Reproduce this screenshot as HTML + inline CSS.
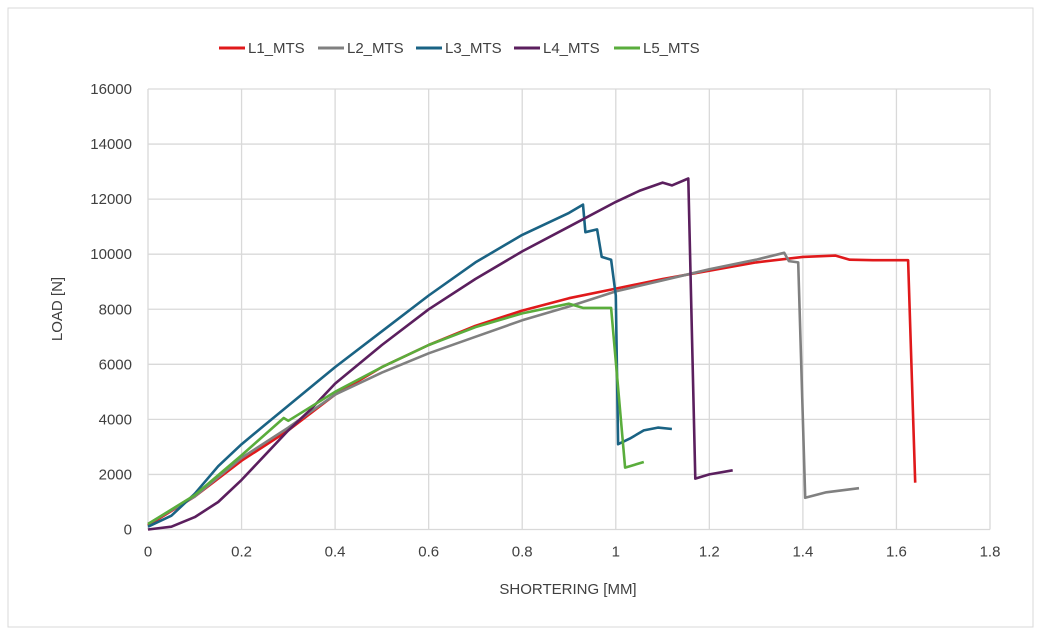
<!DOCTYPE html>
<html><head><meta charset="utf-8"><style>
html,body{margin:0;padding:0;background:#fff;}
svg{display:block;font-family:"Liberation Sans",sans-serif;}
</style></head><body>
<svg id="chart" width="1042" height="636">
<rect x="8" y="8" width="1025" height="619" fill="#fff" stroke="#d9d9d9"/>
<g id="grid"></g><g id="axes"></g><g id="series"></g><g id="legend"></g>
<text x="568" y="594" text-anchor="middle" font-size="15" fill="#404040">SHORTERING [MM]</text>
<text transform="translate(62,309) rotate(-90)" text-anchor="middle" font-size="15" fill="#404040">LOAD [N]</text>
</svg>
<script>
const seriesNames=["L1_MTS","L2_MTS","L3_MTS","L4_MTS","L5_MTS"];
const seriesColors=["#e0191b","#808080","#1a6384","#5b1f5e","#5aad3c"];
const xTicks=[0,0.2,0.4,0.6,0.8,1,1.2,1.4,1.6,1.8];
const yTicks=[0,2000,4000,6000,8000,10000,12000,14000,16000];
const L1=[[0,150],[0.1,1200],[0.2,2500],[0.3,3600],[0.4,4900],[0.5,5900],[0.6,6700],[0.7,7400],[0.8,7950],[0.9,8400],[1.0,8750],[1.1,9100],[1.2,9400],[1.3,9700],[1.4,9900],[1.47,9950],[1.5,9800],[1.55,9780],[1.625,9780],[1.64,1700]];
const L2=[[0,200],[0.1,1200],[0.2,2600],[0.3,3700],[0.4,4900],[0.5,5700],[0.6,6400],[0.7,7000],[0.8,7600],[0.9,8100],[1.0,8650],[1.1,9050],[1.2,9450],[1.3,9800],[1.36,10050],[1.37,9750],[1.39,9700],[1.405,1150],[1.45,1350],[1.52,1500]];
const L3=[[0,100],[0.05,500],[0.1,1300],[0.15,2300],[0.2,3100],[0.25,3800],[0.3,4500],[0.4,5900],[0.5,7200],[0.6,8500],[0.7,9700],[0.8,10700],[0.9,11500],[0.93,11800],[0.935,10800],[0.96,10900],[0.97,9900],[0.99,9800],[1.0,8500],[1.005,3100],[1.03,3300],[1.06,3600],[1.09,3700],[1.12,3650]];
const L4=[[0,0],[0.05,100],[0.1,450],[0.15,1000],[0.2,1800],[0.25,2700],[0.3,3600],[0.35,4400],[0.4,5300],[0.5,6700],[0.6,8000],[0.7,9100],[0.8,10100],[0.9,11000],[1.0,11900],[1.05,12300],[1.1,12600],[1.12,12500],[1.155,12750],[1.17,1850],[1.2,2000],[1.25,2150]];
const L5=[[0,200],[0.1,1250],[0.2,2700],[0.29,4050],[0.3,3950],[0.4,5000],[0.5,5900],[0.6,6700],[0.7,7350],[0.8,7850],[0.9,8200],[0.92,8100],[0.93,8050],[0.99,8050],[1.02,2250],[1.03,2300],[1.06,2450]];
const allSeries=[L1,L2,L3,L4,L5];
const X0=148,X1=990,Y0=529.5,Y1=89;
function sx(v){return X0+(v-0)/(1.8-0)*(X1-X0);}
function sy(v){return Y0-(v-0)/(16000-0)*(Y0-Y1);}
const NS="http://www.w3.org/2000/svg";
function mk(tag,attrs,parent){const e=document.createElementNS(NS,tag);for(const k in attrs)e.setAttribute(k,attrs[k]);parent.appendChild(e);return e;}
const grid=document.getElementById('grid'),axes=document.getElementById('axes'),ser=document.getElementById('series'),leg=document.getElementById('legend');
yTicks.forEach(t=>{
  const l=mk('line',{x1:X0,x2:X1,y1:sy(t),y2:sy(t),stroke:'#d9d9d9','stroke-width':1.3},grid);
  
  
  const tx=mk('text',{x:X0-16,y:sy(t)+5,'text-anchor':'end','font-size':15,fill:'#404040'},axes);
  tx.textContent=t;
  
  
});
xTicks.forEach(t=>{
  const l=mk('line',{x1:sx(t),x2:sx(t),y1:Y1,y2:Y0,stroke:'#d9d9d9','stroke-width':1.3},grid);
  
  
  const tx=mk('text',{x:sx(t),y:Y0+27,'text-anchor':'middle','font-size':15,fill:'#404040'},axes);
  tx.textContent=t;
  
  
});
allSeries.forEach((d,i)=>{
  const p=mk('polyline',{points:d.map(q=>sx(q[0]).toFixed(1)+','+sy(q[1]).toFixed(1)).join(' '),fill:'none',stroke:seriesColors[i],'stroke-width':2.6,'stroke-linejoin':'round'},ser);
  
  
});
const legX=[219,318,416,514,614];
seriesNames.forEach((n,i)=>{
  const g=mk('g',{},leg);
  
  
  mk('line',{x1:legX[i],x2:legX[i]+26,y1:48,y2:48,stroke:seriesColors[i],'stroke-width':3},g);
  const t=mk('text',{x:legX[i]+29,y:53,'font-size':15,fill:'#404040'},g);
  t.textContent=n;
});
</script>
</body></html>
